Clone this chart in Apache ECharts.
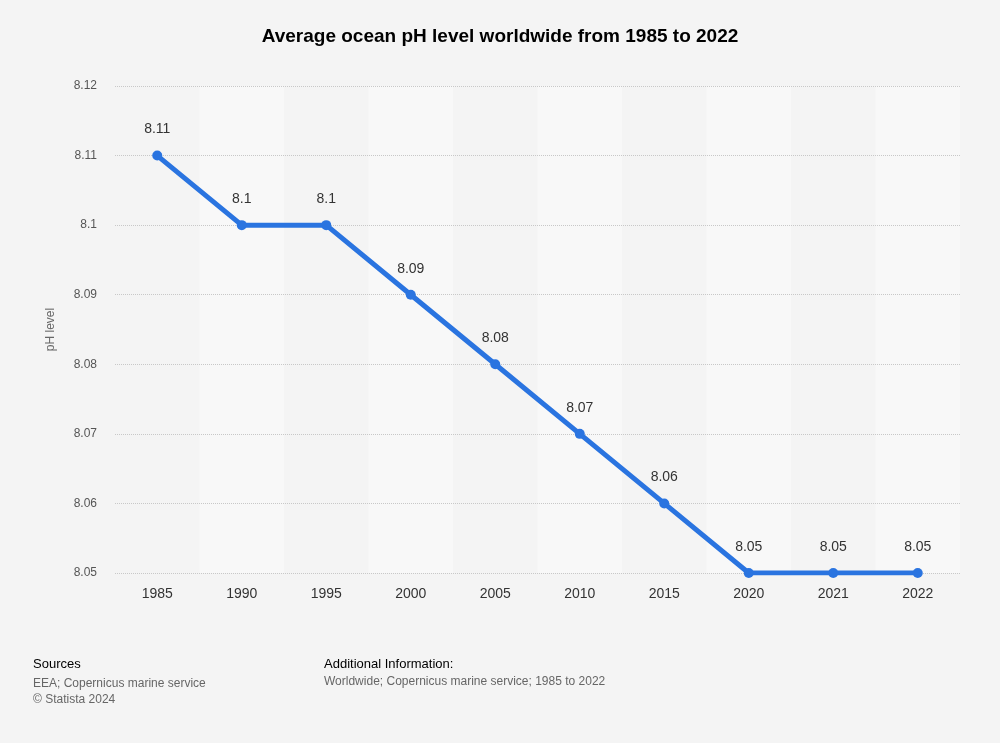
<!DOCTYPE html>
<html>
<head>
<meta charset="utf-8">
<script src="https://cdn.jsdelivr.net/npm/echarts@6/dist/echarts.min.js"></script>
<style>
  html, body { margin: 0; padding: 0; background: #f4f4f4; }
  #chart { width: 1000px; height: 743px; }
</style>
</head>
<body>
<div id="chart"></div>
<script>
// years and average ocean pH values
const years = ['1985', '1990', '1995', '2000', '2005', '2010', '2015', '2020', '2021', '2022'];
const phValues = [8.11, 8.10, 8.10, 8.09, 8.08, 8.07, 8.06, 8.05, 8.05, 8.05];

const chart = echarts.init(document.getElementById('chart'));
const font = 'Liberation Sans, Arial, sans-serif';

chart.setOption({
  backgroundColor: '#f4f4f4',
  textStyle: { fontFamily: font },
  title: {
    text: 'Average ocean pH level worldwide from 1985 to 2022',
    left: 'center',
    top: 22,
    textStyle: { fontSize: 19, fontWeight: 'bold', color: '#000', fontFamily: font }
  },
  grid: { left: 115, right: 40, top: 86, bottom: 170 },
  xAxis: {
    type: 'category',
    data: years,
    boundaryGap: true,
    z: 0,
    axisLine: { show: false },
    axisTick: { show: false },
    axisLabel: { color: '#333', fontSize: 14, margin: 14 },
    splitArea: { show: true, areaStyle: { color: ['#f4f4f4', '#f8f8f8'] } }
  },
  yAxis: {
    type: 'value',
    min: 8.05,
    max: 8.12,
    interval: 0.01,
    z: 2,
    name: 'pH level',
    nameLocation: 'middle',
    nameGap: 58,
    nameTextStyle: { color: '#666', fontSize: 12 },
    axisLine: { show: false },
    axisTick: { show: false },
    axisLabel: {
      color: '#555', fontSize: 12, margin: 18,
      formatter: v => String(+v.toFixed(2))
    },
    splitLine: { lineStyle: { color: '#c8c8c8', type: 'dotted' } }
  },
  series: [{
    type: 'line',
    data: phValues,
    z: 3,
    symbol: 'circle',
    symbolSize: 10,
    lineStyle: { color: '#2a74e0', width: 5 },
    itemStyle: { color: '#2a74e0' },
    label: {
      show: true, position: 'top', distance: 14,
      color: '#333', fontSize: 14,
      formatter: p => String(+p.value.toFixed(2))
    }
  }],
  graphic: [
    { type: 'text', left: 33, top: 658, style: { text: 'Sources', fill: '#000', font: '13px ' + font } },
    { type: 'text', left: 33, top: 676, style: { text: 'EEA; Copernicus marine service\n© Statista 2024', fill: '#666', font: '12px ' + font, lineHeight: 16 } },
    { type: 'text', left: 324, top: 658, style: { text: 'Additional Information:', fill: '#000', font: '13px ' + font } },
    { type: 'text', left: 324, top: 676, style: { text: 'Worldwide; Copernicus marine service; 1985 to 2022', fill: '#666', font: '12px ' + font } }
  ]
});
</script>
</body>
</html>
